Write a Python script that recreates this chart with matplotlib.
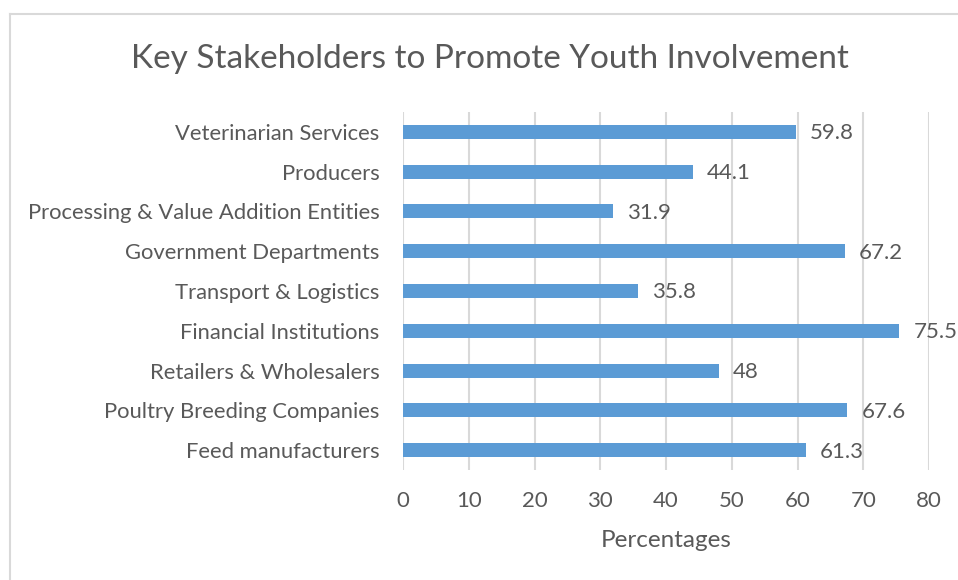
import matplotlib
matplotlib.use("Agg")
import matplotlib.pyplot as plt
from matplotlib.lines import Line2D

# bottom -> top order, as drawn
CATEGORIES = ["Feed manufacturers", "Poultry Breeding Companies", "Retailers & Wholesalers",
              "Financial Institutions", "Transport & Logistics", "Government Departments",
              "Processing & Value Addition Entities", "Producers", "Veterinarian Services"]
PERCENT = [61.3, 67.6, 48, 75.5, 35.8, 67.2, 31.9, 44.1, 59.8]
LABELS = ["61.3", "67.6", "48", "75.5", "35.8", "67.2", "31.9", "44.1", "59.8"]
XTICKS = [0, 10, 20, 30, 40, 50, 60, 70, 80]

BAR = "#5B9BD5"
TXT = "#595959"
GRID = "#D9D9D9"
plt.rcParams["font.family"] = ["Lato", "DejaVu Sans"]

fig = plt.figure(figsize=(9.58, 5.8), dpi=100)
ax = fig.add_axes([403 / 958, 1 - 470 / 580, (929 - 403) / 958, (470 - 112) / 580])

y = range(len(CATEGORIES))
ax.barh(y, PERCENT, height=0.35, color=BAR, zorder=3)
for yi, v, lab in zip(y, PERCENT, LABELS):
    ax.annotate(lab, (v, yi), xytext=(10, -1), textcoords="offset points",
                va="center", ha="left", fontsize=16, color=TXT)

ax.set_xlim(0, 80)
ax.set_ylim(-0.5, len(CATEGORIES) - 0.5)
ax.set_xticks(XTICKS)
ax.set_xticklabels([str(t) for t in XTICKS], fontsize=16, color=TXT)
ax.set_yticks(list(y))
ax.set_yticklabels(CATEGORIES, fontsize=15.8, color=TXT)
ax.tick_params(axis="both", length=0)
ax.tick_params(axis="x", pad=15)
ax.tick_params(axis="y", pad=17)
ax.xaxis.grid(True, color=GRID, lw=1.5, zorder=0)
for s in ax.spines.values():
    s.set_visible(False)
ax.set_xlabel("Percentages", fontsize=17.5, color=TXT, labelpad=14)

fig.text(490 / 958, 1 - 59 / 580, "Key Stakeholders to Promote Youth Involvement",
         ha="center", va="center", fontsize=24, color=TXT)

# chart-area border (top and left edges visible)
fig.add_artist(Line2D([9.5 / 958, 9.5 / 958], [0, 1 - 13.5 / 580], color="#D9D9D9", lw=1.5))
fig.add_artist(Line2D([9.5 / 958, 1], [1 - 13.5 / 580] * 2, color="#D9D9D9", lw=1.5))

fig.savefig("out.png", dpi=100)
